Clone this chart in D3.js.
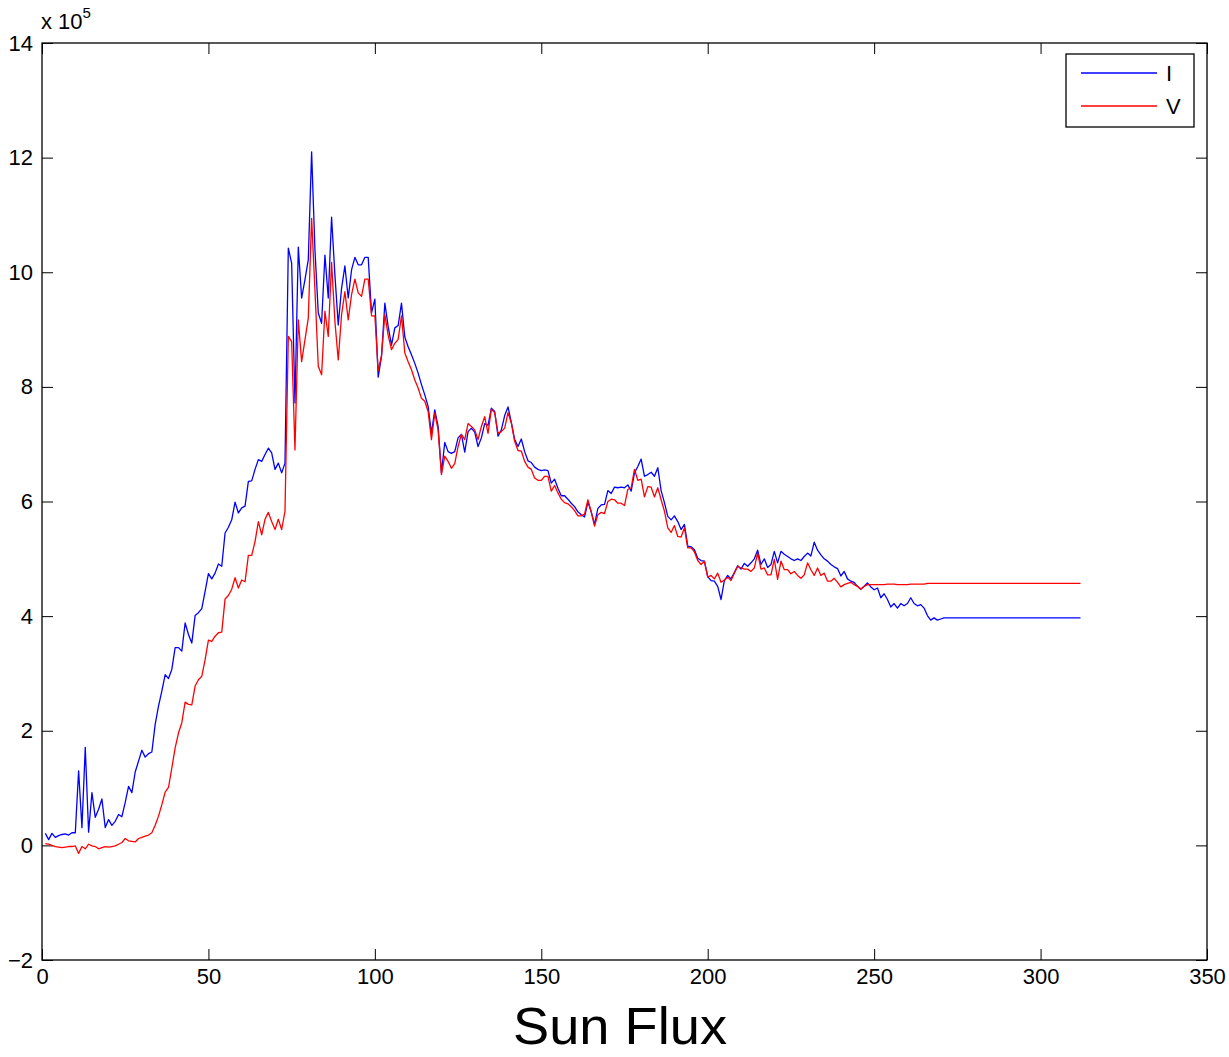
<!DOCTYPE html>
<html><head><meta charset="utf-8">
<script src="https://cdn.jsdelivr.net/npm/d3@7/dist/d3.min.js"></script>
<style>
body{margin:0;background:#fff}
svg text{font-family:"Liberation Sans",Arial,Helvetica,sans-serif;fill:#000}
</style>
</head><body>
<svg id="chart" width="1229" height="1057"></svg>
<script>
// Sun Flux (x), values in units of 1e5
const sunFlux = [1,2,3,4,5,6,7,8,9,10,11,12,13,14,15,16,17,18,19,20,21,22,23,24,25,26,27,28,29,30,
31,32,33,34,35,36,37,38,39,40,41,42,43,44,45,46,47,48,49,50,51,52,53,54,55,56,57,58,59,60,
61,62,63,64,65,66,67,68,69,70,71,72,73,74,75,76,77,78,79,80,81,82,83,84,85,86,87,88,89,90,
91,92,93,94,95,96,97,98,99,100,101,102,103,104,105,106,107,108,109,110,111,112,113,114,115,116,117,118,119,120,
121,122,123,124,125,126,127,128,129,130,131,132,133,134,135,136,137,138,139,140,141,142,143,144,145,146,147,148,149,150,
151,152,153,154,155,156,157,158,159,160,161,162,163,164,165,166,167,168,169,170,171,172,173,174,175,176,177,178,179,180,
181,182,183,184,185,186,187,188,189,190,191,192,193,194,195,196,197,198,199,200,201,202,203,204,205,206,207,208,209,210,
211,212,213,214,215,216,217,218,219,220,221,222,223,224,225,226,227,228,229,230,231,232,233,234,235,236,237,238,239,240,
241,242,243,244,245,246,247,248,249,250,251,252,253,254,255,256,257,258,259,260,261,262,263,264,265,266,267,268,269,270,
271,312];

const seriesI = [0.21,0.10,0.21,0.14,0.17,0.19,0.20,0.18,0.22,0.22,
1.30,0.31,1.71,0.23,0.92,0.49,0.63,0.81,0.31,0.45,
0.35,0.42,0.54,0.50,0.75,1.03,0.92,1.28,1.47,1.66,
1.54,1.60,1.63,2.11,2.43,2.69,2.98,2.91,3.07,3.45,
3.45,3.39,3.88,3.68,3.53,4.01,4.06,4.13,4.43,4.74,
4.65,4.75,4.91,4.87,5.45,5.55,5.68,5.99,5.80,5.89,
5.92,6.35,6.36,6.56,6.73,6.70,6.82,6.93,6.85,6.56,
6.67,6.50,6.67,10.42,10.16,7.72,10.44,9.55,9.87,10.22,
12.10,10.39,9.29,9.11,10.30,9.55,10.96,9.95,9.08,9.72,
10.11,9.55,10.04,10.26,10.13,10.13,10.26,10.26,9.29,9.53,
8.17,8.53,9.46,9.05,8.73,9.03,9.07,9.46,8.87,8.70,
8.56,8.41,8.24,8.04,7.86,7.66,7.19,7.60,7.31,6.50,
7.03,6.87,6.84,6.87,7.11,7.17,6.86,7.22,7.28,7.21,
6.96,7.11,7.36,7.33,7.63,7.57,7.14,7.25,7.50,7.65,
7.38,7.08,6.96,7.09,6.87,6.71,6.68,6.60,6.56,6.54,
6.55,6.54,6.32,6.39,6.23,6.10,6.10,6.04,5.97,5.91,
5.82,5.77,5.73,5.99,5.82,5.60,5.88,5.94,5.95,6.19,
6.14,6.25,6.24,6.25,6.24,6.29,6.18,6.50,6.61,6.74,
6.44,6.47,6.51,6.44,6.59,6.19,5.98,5.74,5.68,5.75,
5.65,5.51,5.60,5.22,5.21,5.16,5.01,4.97,4.96,4.69,
4.62,4.61,4.52,4.29,4.62,4.71,4.65,4.76,4.88,4.82,
4.92,4.87,4.93,5.00,5.15,4.90,5.00,4.85,4.90,5.13,
4.93,5.13,5.08,5.04,5.00,4.97,5.00,4.97,5.04,5.10,
5.05,5.29,5.15,5.07,5.00,4.96,4.90,4.86,4.83,4.70,
4.78,4.65,4.61,4.59,4.52,4.47,4.52,4.58,4.51,4.46,
4.49,4.32,4.39,4.29,4.16,4.22,4.14,4.22,4.18,4.22,
4.32,4.22,4.18,4.20,4.14,4.01,3.93,3.97,3.93,3.95,
3.97,3.97];

const seriesV = [0.03,0.02,0.00,-0.02,-0.03,-0.04,-0.03,-0.02,-0.02,-0.01,
-0.14,-0.02,-0.06,0.02,-0.01,-0.02,-0.06,-0.04,-0.02,-0.03,
-0.02,-0.01,0.02,0.05,0.12,0.08,0.07,0.06,0.12,0.14,
0.16,0.18,0.22,0.35,0.51,0.71,0.93,1.01,1.35,1.70,
1.96,2.14,2.50,2.46,2.45,2.78,2.89,2.95,3.24,3.58,
3.56,3.65,3.71,3.72,4.30,4.36,4.47,4.67,4.49,4.63,
4.60,5.06,5.06,5.30,5.65,5.42,5.69,5.81,5.65,5.51,
5.69,5.51,5.83,8.88,8.79,6.90,9.17,8.44,8.82,9.20,
10.94,9.69,8.36,8.21,9.32,8.88,10.17,9.14,8.47,9.26,
9.66,9.17,9.61,9.88,9.64,9.58,9.88,9.88,9.24,9.24,
8.28,8.55,9.26,8.90,8.65,8.76,8.83,9.24,8.59,8.44,
8.30,8.12,7.98,7.80,7.75,7.57,7.08,7.54,7.25,6.47,
6.79,6.70,6.58,6.66,6.96,7.17,7.08,7.36,7.31,7.25,
7.08,7.31,7.48,7.19,7.61,7.55,7.19,7.22,7.28,7.55,
7.37,7.05,6.89,6.88,6.70,6.60,6.56,6.41,6.37,6.37,
6.44,6.44,6.18,6.28,6.15,6.04,5.98,5.96,5.91,5.84,
5.75,5.75,5.78,6.03,5.82,5.57,5.77,5.81,5.79,6.00,
6.04,6.03,5.97,5.97,5.93,6.21,6.24,6.56,6.37,6.39,
6.08,6.26,6.25,6.08,6.24,6.03,5.83,5.54,5.46,5.58,
5.39,5.38,5.54,5.19,5.19,5.12,4.97,4.90,4.96,4.68,
4.71,4.65,4.75,4.59,4.63,4.68,4.62,4.75,4.87,4.84,
4.82,4.82,4.78,4.84,5.10,4.82,4.84,4.72,4.72,4.99,
4.64,4.96,4.81,4.81,4.74,4.78,4.71,4.66,4.72,4.93,
4.81,4.71,4.84,4.71,4.75,4.61,4.61,4.66,4.59,4.51,
4.55,4.57,4.59,4.55,4.52,4.47,4.52,4.55,4.55,4.55,
4.55,4.55,4.55,4.56,4.56,4.56,4.55,4.55,4.55,4.55,
4.56,4.56,4.56,4.56,4.56,4.57,4.57,4.57,4.57,4.57,
4.57,4.57];

const xTicks = [0,50,100,150,200,250,300,350];
const yTicks = [-2,0,2,4,6,8,10,12,14];
const seriesNames = ["I","V"];
const seriesColors = ["#0000ff","#ff0000"];
const xLabel = "Sun Flux";

const svg = d3.select("#chart");
const L = 42, R = 1207, T = 43, B = 960;
const x = d3.scaleLinear().domain([0,350]).range([L,R]);
const y = d3.scaleLinear().domain([-2,14]).range([B,T]);
const tickLen = 11;
const fs = 22;

svg.append("rect").attr("x",0).attr("y",0).attr("width",1229).attr("height",1057).attr("fill","#fff");

const gB = svg.append("g").attr("transform",`translate(0,${B})`)
  .call(d3.axisBottom(x).tickValues(xTicks).tickSize(-tickLen).tickSizeOuter(0).tickPadding(8).tickFormat(d3.format("d")));
const gT = svg.append("g").attr("transform",`translate(0,${T})`)
  .call(d3.axisTop(x).tickValues(xTicks).tickSize(-tickLen).tickSizeOuter(0).tickFormat(""));
const gL = svg.append("g").attr("transform",`translate(${L},0)`)
  .call(d3.axisLeft(y).tickValues(yTicks).tickSize(-tickLen).tickSizeOuter(0).tickPadding(9).tickFormat(d => d < 0 ? "\u2212" + Math.abs(d) : String(d)));
const gR = svg.append("g").attr("transform",`translate(${R},0)`)
  .call(d3.axisRight(y).tickValues(yTicks).tickSize(-tickLen).tickSizeOuter(0).tickFormat(""));
[gB,gT,gL,gR].forEach(g => {
  g.select(".domain").remove();
  g.selectAll(".tick line").attr("stroke","#000").attr("stroke-width",1);
  g.selectAll("text").attr("font-size",fs).attr("font-family",'"Liberation Sans",Arial,sans-serif').attr("fill","#000");
});
gB.selectAll("text").attr("dy","0.71em");

svg.append("rect").attr("x",L).attr("y",T).attr("width",R-L).attr("height",B-T)
  .attr("fill","none").attr("stroke","#000").attr("stroke-width",1.3);

const ex = svg.append("text").attr("x",41).attr("y",29).attr("font-size",fs);
ex.append("tspan").text("x 10");
ex.append("tspan").attr("dy",-11).attr("font-size",15).text("5");

const data = [seriesI, seriesV];
const line = d3.line().x((d,i) => x(sunFlux[i])).y(d => y(d));
data.forEach((s,k) => {
  svg.append("path").datum(s).attr("d",line).attr("fill","none")
    .attr("stroke",seriesColors[k]).attr("stroke-width",1.3).attr("stroke-linejoin","round");
});

svg.append("text").attr("x",620).attr("y",1044).attr("text-anchor","middle")
  .attr("font-size",52).attr("textLength",214).attr("lengthAdjust","spacingAndGlyphs").text(xLabel);

const lg = svg.append("g");
lg.append("rect").attr("x",1066).attr("y",54).attr("width",128).attr("height",73)
  .attr("fill","#fff").attr("stroke","#000").attr("stroke-width",1.3);
seriesNames.forEach((n,k) => {
  const yy = 73 + k*33;
  lg.append("line").attr("x1",1081).attr("x2",1157).attr("y1",yy).attr("y2",yy)
    .attr("stroke",seriesColors[k]).attr("stroke-width",1.3);
  lg.append("text").attr("x",1166).attr("y",yy).attr("dy","0.36em").attr("font-size",fs).text(n);
});
</script>
</body></html>
